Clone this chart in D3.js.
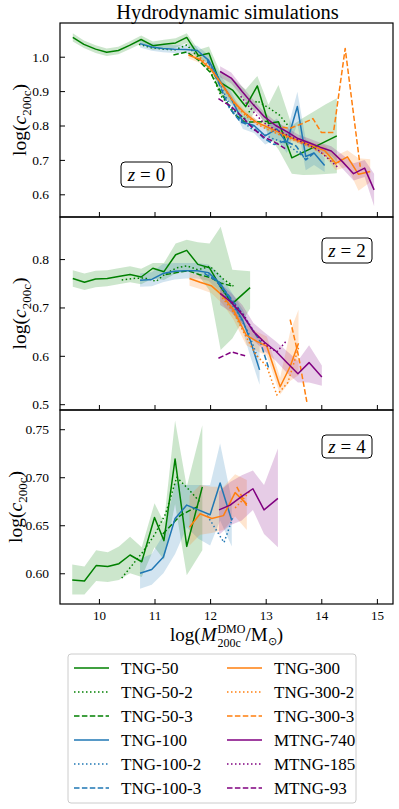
<!DOCTYPE html>
<html><head><meta charset="utf-8">
<script src="https://cdn.jsdelivr.net/npm/d3@7"></script>
<style>
body{margin:0;background:#fff;}
text{font-family:"Liberation Serif","Times New Roman",serif;fill:#000;}
</style></head><body>
<svg id="chart" width="399" height="809"></svg>
<script>
// ---------------- DATA ----------------
const seriesNames = ["TNG-50","TNG-50-2","TNG-50-3","TNG-100","TNG-100-2","TNG-100-3",
                     "TNG-300","TNG-300-2","TNG-300-3","MTNG-740","MTNG-185","MTNG-93"];
const redshiftLabels = ["0","2","4"];
const xTicks = [10, 11, 12, 13, 14, 15];
const yTicksZ0 = [0.6, 0.7, 0.8, 0.9, 1.0];
const yTicksZ2 = [0.5, 0.6, 0.7, 0.8];
const yTicksZ4 = [0.60, 0.65, 0.70, 0.75];

// z = 0 : [logM, logc, low, high] for solid series, [logM, logc] otherwise
const tng50_z0 = [[9.53,1.056,1.044,1.068],[9.73,1.036,1.025,1.047],[9.94,1.022,1.011,1.033],[10.14,1.013,1.002,1.024],
  [10.35,1.018,1.007,1.029],[10.55,1.033,1.022,1.044],[10.76,1.050,1.038,1.062],[10.97,1.032,1.020,1.044],
  [11.17,1.036,1.023,1.049],[11.38,1.040,1.026,1.054],[11.58,1.056,1.040,1.068],[11.79,1.003,0.988,1.020],
  [11.98,1.010,0.985,1.030],[12.17,0.927,0.890,0.960],[12.41,0.902,0.860,0.935],[12.64,0.855,0.800,0.905],
  [12.85,0.915,0.850,0.944],[13.05,0.806,0.770,0.860],[13.23,0.811,0.730,0.918],[13.47,0.706,0.660,0.800],
  [13.67,0.722,0.656,0.822],[13.88,0.738,0.657,0.842],[14.08,0.754,0.659,0.862],[14.28,0.770,0.661,0.879]];
const tng50_2_z0 = [[10.72,1.036],[10.95,1.026],[11.17,1.022],[11.37,1.020],[11.58,1.034],[11.79,0.998],[12.0,0.960],
  [12.2,0.885],[12.42,0.845],[12.62,0.820],[12.84,0.872],[13.05,0.852],[13.25,0.830],[13.4,0.800]];
const tng50_3_z0 = [[11.34,1.005],[11.58,1.014],[11.79,0.990],[12.0,0.955],[12.2,0.895],[12.42,0.835],[12.62,0.810],
  [12.84,0.810],[13.05,0.812]];
const tng100_z0 = [[10.74,1.038,1.027,1.048],[10.95,1.028,1.017,1.039],[11.15,1.024,1.013,1.035],[11.36,1.022,1.011,1.033],
  [11.56,1.021,1.009,1.033],[11.77,1.018,1.005,1.032],[11.97,0.990,0.975,1.005],[12.18,0.930,0.912,0.948],
  [12.38,0.878,0.858,0.898],[12.59,0.810,0.790,0.830],[12.79,0.800,0.778,0.822],[12.99,0.770,0.745,0.795],
  [13.20,0.790,0.760,0.820],[13.38,0.750,0.720,0.780],[13.57,0.855,0.805,0.898],[13.72,0.710,0.670,0.760],
  [13.87,0.720,0.685,0.745],[14.06,0.684,0.665,0.705]];
const tng100_2_z0 = [[11.95,0.985],[12.15,0.930],[12.35,0.860],[12.55,0.815],[12.75,0.790],[12.95,0.775],[13.15,0.760],
  [13.35,0.750],[13.55,0.725],[13.75,0.700]];
const tng100_3_z0 = [[11.95,0.990],[12.15,0.925],[12.35,0.850],[12.55,0.810],[12.75,0.800],[12.95,0.765],[13.15,0.745],
  [13.35,0.755],[13.55,0.740],[13.72,0.700],[13.87,0.720]];
const tng300_z0 = [[11.61,1.005,0.995,1.015],[11.82,0.992,0.982,1.002],[12.02,0.962,0.952,0.972],[12.22,0.918,0.908,0.928],
  [12.43,0.868,0.858,0.878],[12.63,0.835,0.826,0.844],[12.83,0.810,0.802,0.818],[13.04,0.795,0.787,0.803],
  [13.24,0.780,0.772,0.788],[13.44,0.765,0.757,0.773],[13.65,0.752,0.744,0.760],[13.85,0.740,0.730,0.750],
  [14.06,0.727,0.712,0.742],[14.26,0.690,0.670,0.712],[14.47,0.709,0.680,0.728],[14.67,0.658,0.610,0.705],
  [14.88,0.666,0.635,0.702]];
const tng300_2_z0 = [[11.82,0.998],[12.02,0.965],[12.22,0.915],[12.43,0.865],[12.63,0.830],[12.83,0.805],[13.04,0.788],
  [13.24,0.774],[13.44,0.762],[13.65,0.748],[13.85,0.735],[14.06,0.715],[14.26,0.688],[14.40,0.705]];
const tng300_3_z0 = [[13.30,0.795],[13.44,0.792],[13.65,0.805],[13.85,0.820],[14.0,0.780],[14.22,0.780],[14.43,1.024],
  [14.70,0.680]];
const mtng740_z0 = [[12.18,0.957,0.940,0.972],[12.38,0.938,0.922,0.954],[12.58,0.898,0.883,0.913],[12.78,0.860,0.846,0.874],
  [12.98,0.825,0.812,0.838],[13.18,0.800,0.788,0.812],[13.38,0.782,0.770,0.794],[13.58,0.762,0.750,0.774],
  [13.78,0.750,0.738,0.762],[13.98,0.737,0.724,0.750],[14.18,0.726,0.712,0.740],[14.38,0.695,0.675,0.715],
  [14.58,0.660,0.640,0.690],[14.78,0.676,0.650,0.700],[14.95,0.613,0.565,0.660]];
const mtng185_z0 = [[12.55,0.885],[12.75,0.845],[12.95,0.810],[13.15,0.790],[13.35,0.775],[13.55,0.760],[13.75,0.745],
  [13.95,0.728],[14.15,0.700],[14.30,0.678]];
const mtng93_z0 = [[12.15,0.878],[12.38,0.855],[12.58,0.825],[12.78,0.790],[12.96,0.767],[13.16,0.752],[13.35,0.733]];

// z = 2
const tng50_z2 = [[9.53,0.760,0.743,0.777],[9.74,0.752,0.736,0.770],[9.94,0.759,0.742,0.776],[10.15,0.760,0.744,0.777],
  [10.35,0.764,0.748,0.781],[10.56,0.768,0.752,0.785],[10.76,0.763,0.748,0.780],[10.97,0.781,0.760,0.792],
  [11.17,0.774,0.757,0.792],[11.38,0.809,0.770,0.832],[11.58,0.818,0.775,0.840],[11.78,0.789,0.768,0.835],
  [11.99,0.782,0.735,0.832],[12.19,0.742,0.612,0.867],[12.40,0.708,0.636,0.778],[12.72,0.741,0.698,0.775]];
const tng50_2_z2 = [[10.41,0.757],[10.62,0.760],[10.82,0.761],[11.03,0.754],[11.2,0.770],[11.40,0.782],[11.58,0.786],
  [11.78,0.778],[12.0,0.785],[12.22,0.760],[12.42,0.744]];
const tng50_3_z2 = [[11.2,0.768],[11.4,0.772],[11.6,0.776],[11.8,0.768],[12.0,0.762],[12.2,0.750],[12.42,0.744]];
const tng100_z2 = [[10.74,0.756,0.743,0.770],[10.95,0.758,0.744,0.773],[11.15,0.770,0.752,0.790],[11.36,0.775,0.758,0.792],
  [11.56,0.776,0.760,0.792],[11.77,0.776,0.760,0.792],[11.97,0.772,0.755,0.789],[12.18,0.750,0.732,0.768],
  [12.38,0.714,0.695,0.733],[12.59,0.672,0.650,0.695],[12.72,0.633,0.600,0.665],[12.89,0.571,0.540,0.632]];
const tng100_2_z2 = [[11.9,0.772],[12.1,0.757],[12.3,0.722],[12.5,0.688],[12.7,0.645],[12.85,0.598]];
const tng100_3_z2 = [[11.9,0.770],[12.1,0.756],[12.3,0.730],[12.5,0.700],[12.7,0.665],[12.9,0.630],[13.05,0.576]];
const tng300_z2 = [[11.63,0.760,0.745,0.772],[11.82,0.752,0.738,0.766],[12.02,0.745,0.730,0.760],[12.22,0.725,0.708,0.742],
  [12.42,0.695,0.675,0.712],[12.65,0.643,0.622,0.664],[12.84,0.630,0.610,0.650],[13.02,0.620,0.600,0.640],
  [13.26,0.536,0.520,0.555],[13.44,0.578,0.548,0.650],[13.59,0.626,0.560,0.695]];
const tng300_2_z2 = [[12.22,0.720],[12.42,0.690],[12.62,0.645],[12.82,0.603],[13.02,0.578],[13.20,0.519],[13.40,0.545],
  [13.60,0.620]];
const tng300_3_z2 = [[13.44,0.675],[13.59,0.600],[13.74,0.505]];
const mtng740_z2 = [[12.18,0.729,0.705,0.750],[12.38,0.711,0.690,0.730],[12.58,0.685,0.665,0.705],[12.78,0.650,0.632,0.668],
  [12.98,0.628,0.610,0.648],[13.18,0.610,0.590,0.630],[13.38,0.586,0.565,0.610],[13.58,0.563,0.545,0.590],
  [13.78,0.586,0.545,0.622],[14.01,0.556,0.538,0.580]];
const mtng185_z2 = [[12.4,0.712],[12.6,0.685],[12.8,0.648],[13.0,0.622],[13.2,0.608],[13.38,0.632]];
const mtng93_z2 = [[12.15,0.595],[12.39,0.608],[12.63,0.600]];

// z = 4
const tng50_z4 = [[9.52,0.593,0.578,0.609],[9.74,0.592,0.578,0.607],[9.95,0.608,0.592,0.624],[10.16,0.607,0.591,0.622],
  [10.36,0.610,0.593,0.628],[10.56,0.619,0.600,0.638],[10.77,0.612,0.596,0.627],[11.00,0.658,0.627,0.673],
  [11.17,0.634,0.614,0.653],[11.37,0.719,0.672,0.759],[11.58,0.628,0.598,0.690],[11.86,0.690,0.624,0.754]];
const tng50_2_z4 = [[10.41,0.595],[10.62,0.610],[10.80,0.623],[11.0,0.640],[11.2,0.662],[11.40,0.700],[11.62,0.687],
  [11.82,0.674]];
const tng50_3_z4 = [[11.15,0.641],[11.46,0.660],[11.62,0.665],[11.80,0.670]];
const tng100_z4 = [[10.74,0.600,0.584,0.615],[10.95,0.604,0.588,0.620],[11.16,0.617,0.600,0.640],[11.37,0.657,0.620,0.694],
  [11.58,0.671,0.648,0.692],[11.79,0.666,0.636,0.692],[12.00,0.661,0.629,0.692],[12.18,0.694,0.655,0.735],
  [12.39,0.655,0.628,0.676]];
const tng100_2_z4 = [[11.95,0.660],[12.25,0.632],[12.42,0.660]];
const tng100_3_z4 = [];
const tng300_z4 = [[11.63,0.648,0.629,0.681],[11.82,0.662,0.640,0.692],[12.03,0.657,0.642,0.690],[12.24,0.660,0.645,0.690],
  [12.45,0.684,0.659,0.703],[12.66,0.672,0.645,0.697]];
const tng300_2_z4 = [[12.45,0.668],[12.58,0.676],[12.72,0.686]];
const tng300_3_z4 = [[12.48,0.690],[12.66,0.670]];
const mtng740_z4 = [[12.16,0.666,0.640,0.685],[12.36,0.671,0.650,0.695],[12.57,0.680,0.655,0.702],[12.77,0.688,0.666,0.707],
  [12.97,0.666,0.641,0.692],[13.22,0.678,0.627,0.730]];
const mtng185_z4 = [];
const mtng93_z4 = [];

// ---------------- STYLE ----------------
const FONT = "Liberation Serif, Times New Roman, serif";
const familyColor = ["#008000","#008000","#008000","#1f77b4","#1f77b4","#1f77b4",
                     "#ff7f0e","#ff7f0e","#ff7f0e","#800080","#800080","#800080"];
const dashStyle = [null,"1.5,2.5","5.5,2.4",null,"1.5,2.5","5.5,2.4",null,"1.5,2.5","5.5,2.4",null,"1.5,2.5","5.5,2.4"];

const panels = [
  {z:redshiftLabels[0], data:[tng50_z0,tng50_2_z0,tng50_3_z0,tng100_z0,tng100_2_z0,tng100_3_z0,tng300_z0,tng300_2_z0,tng300_3_z0,mtng740_z0,mtng185_z0,mtng93_z0],
   top:23, bottom:217, dom:[0.534,1.098], ticks:yTicksZ0, fmt:d3.format(".1f"), box:[121,162,51,25]},
  {z:redshiftLabels[1], data:[tng50_z2,tng50_2_z2,tng50_3_z2,tng100_z2,tng100_2_z2,tng100_3_z2,tng300_z2,tng300_2_z2,tng300_3_z2,mtng740_z2,mtng185_z2,mtng93_z2],
   top:217, bottom:410, dom:[0.488,0.887], ticks:yTicksZ2, fmt:d3.format(".1f"), box:[322,238,50,25]},
  {z:redshiftLabels[2], data:[tng50_z4,tng50_2_z4,tng50_3_z4,tng100_z4,tng100_2_z4,tng100_3_z4,tng300_z4,tng300_2_z4,tng300_3_z4,mtng740_z4,mtng185_z4,mtng93_z4],
   top:410, bottom:604, dom:[0.568,0.770], ticks:yTicksZ4, fmt:d3.format(".2f"), box:[322,435,50,23]}
];

const L = 60, R = 393;
const svg = d3.select("#chart");
const x = d3.scaleLinear().domain([9.3, 15.29]).range([L, R]);

function rich(parent, pieces){
  const g = parent.append("g");
  let cx = 0, stackStart = 0;
  pieces.forEach(p=>{
    const t = g.append("text").attr("font-family",FONT).attr("font-size",p.s).attr("font-style",p.i?"italic":"normal")
      .attr("y",p.dy||0).text(p.t);
    const px = (p.stack ? stackStart : cx) + (p.dx||0);
    t.attr("x",px);
    const w = t.node().getComputedTextLength();
    if(p.stack){ cx = Math.max(cx, px + w); } else { stackStart = px; cx = px + w; }
  });
  g.selectAll("text").attr("x", function(){ return +this.getAttribute("x") - cx/2; });
  return g;
}

// title
svg.append("text").attr("x",(L+R)/2+1).attr("y",19).attr("text-anchor","middle").attr("font-family",FONT)
  .attr("font-size",20.5).text("Hydrodynamic simulations");

panels.forEach((P,pi)=>{
  const y = d3.scaleLinear().domain(P.dom).range([P.bottom, P.top]);
  const clipId = "clip"+pi;
  svg.append("clipPath").attr("id",clipId).append("rect")
    .attr("x",L).attr("y",P.top).attr("width",R-L).attr("height",P.bottom-P.top);
  const g = svg.append("g").attr("clip-path",`url(#${clipId})`);
  const area = d3.area().x(d=>x(d[0])).y0(d=>y(d[2])).y1(d=>y(d[3]));
  const line = d3.line().x(d=>x(d[0])).y(d=>y(d[1]));
  P.data.forEach((ser,si)=>{
    if(!ser.length) return;
    if(ser[0].length===4){
      g.append("path").attr("d",area(ser)).attr("fill",familyColor[si]).attr("fill-opacity",0.2).attr("stroke","none");
    }
  });
  P.data.forEach((ser,si)=>{
    if(!ser.length) return;
    g.append("path").attr("d",line(ser)).attr("fill","none").attr("stroke",familyColor[si])
      .attr("stroke-width",1.5).attr("stroke-dasharray",dashStyle[si]).attr("stroke-linejoin","round");
  });

  // axes
  const ax = d3.axisBottom(x).tickValues(xTicks).tickSize(-5).tickPadding(7)
    .tickFormat(pi===2 ? d3.format("d") : ()=>"");
  const gx = svg.append("g").attr("transform",`translate(0,${P.bottom})`).call(ax);
  const ay = d3.axisLeft(y).tickValues(P.ticks).tickSize(-5).tickPadding(11).tickFormat(P.fmt);
  const gy = svg.append("g").attr("transform",`translate(${L},0)`).call(ay);
  [gx,gy].forEach(a=>{
    a.select(".domain").remove();
    a.selectAll("line").attr("stroke","#000").attr("stroke-width",1);
    a.selectAll("text").attr("font-size",13.5).attr("font-family",FONT).attr("fill","#000");
  });
  gx.selectAll("text").attr("font-size",13);

  svg.append("rect").attr("x",L).attr("y",P.top).attr("width",R-L).attr("height",P.bottom-P.top)
    .attr("fill","none").attr("stroke","#000").attr("stroke-width",1.2);

  // redshift box
  const b = P.box;
  svg.append("rect").attr("x",b[0]).attr("y",b[1]).attr("width",b[2]).attr("height",b[3]).attr("rx",4)
    .attr("fill","#fff").attr("stroke","#000").attr("stroke-width",1);
  const zt = rich(svg,[{t:"z",s:19,i:true},{t:"=",s:19,dx:5},{t:P.z,s:19,dx:5}]);
  zt.attr("transform",`translate(${b[0]+b[2]/2},${b[1]+b[3]/2+6.5})`);

  // y label
  const yl = rich(svg,[{t:"log(",s:19.5},{t:"c",s:19.5,i:true},{t:"200c",s:13,dy:4.5},{t:")",s:19.5}]);
  const lx = pi===2 ? 22 : 26;
  yl.attr("transform",`translate(${lx},${(P.top+P.bottom)/2}) rotate(-90)`);
});

// x label
const xl = rich(svg,[{t:"log(",s:19},{t:"M",s:19,i:true},{t:"DMO",s:12,dy:-8,dx:1},{t:"200c",s:12,dy:6,stack:true},
  {t:"/M",s:19},{t:"\u2299",s:11,dy:4.5},{t:")",s:19}]);
xl.attr("transform",`translate(${(L+R)/2},${640.5})`);

// legend
const lg = svg.append("g");
lg.append("rect").attr("x",68).attr("y",654).attr("width",288).attr("height",149).attr("rx",3)
  .attr("fill","#fff").attr("stroke","#cccccc").attr("stroke-width",1);
seriesNames.forEach((name,i)=>{
  const col = Math.floor(i/6), row = i%6;
  const x0 = col===0 ? 74 : 227;
  const yy = 668 + row*24;
  lg.append("line").attr("x1",x0).attr("x2",x0+35).attr("y1",yy).attr("y2",yy)
    .attr("stroke",familyColor[i]).attr("stroke-width",1.5).attr("stroke-dasharray",dashStyle[i]);
  lg.append("text").attr("x",x0+47).attr("y",yy+6).attr("font-family",FONT).attr("font-size",17).text(name);
});
</script>
</body></html>
